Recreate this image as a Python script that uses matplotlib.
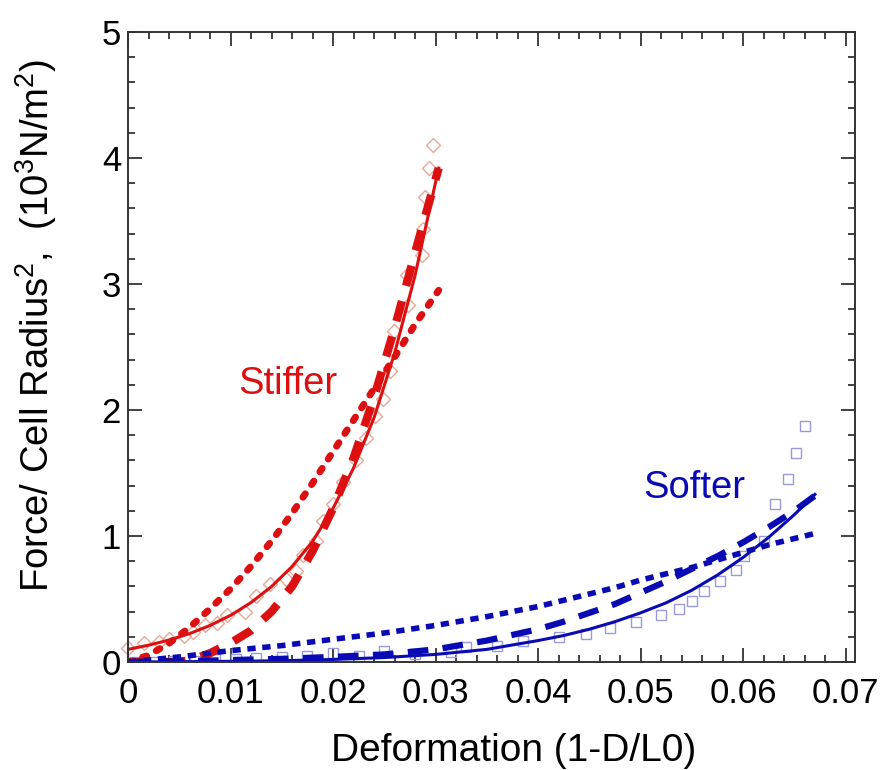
import numpy as np
import matplotlib
matplotlib.use('Agg')
import matplotlib.pyplot as plt
from matplotlib.ticker import MultipleLocator

plt.rcParams['font.family'] = ['Liberation Sans', 'DejaVu Sans']
plt.rcParams['mathtext.default'] = 'regular'

# stiffer cell (red): measured points and three model curves
stiff_x = [0.0000, 0.0016, 0.0030, 0.0040, 0.0055, 0.0063, 0.0075, 0.0087, 0.0097,
           0.0114, 0.0125, 0.0138, 0.0154, 0.0164, 0.0171, 0.0183, 0.0190, 0.0200,
           0.0210, 0.0222, 0.0232, 0.0241, 0.0249, 0.0256, 0.0259, 0.0273, 0.0272,
           0.0287, 0.0288, 0.0290, 0.0294, 0.0297]
stiff_y = [0.11, 0.15, 0.16, 0.18, 0.21, 0.24, 0.29, 0.31, 0.37,
           0.40, 0.52, 0.62, 0.66, 0.72, 0.85, 0.96, 1.12, 1.25,
           1.43, 1.60, 1.78, 1.95, 2.09, 2.31, 2.63, 2.83, 3.07,
           3.23, 3.44, 3.69, 3.92, 4.10]

fit_sx = [0, 0.002, 0.004, 0.006, 0.008, 0.010, 0.012, 0.014, 0.016,
          0.018, 0.020, 0.022, 0.024, 0.026, 0.028, 0.0303]
stiff_solid = [0.10, 0.133, 0.174, 0.225, 0.290, 0.37, 0.472, 0.599, 0.758,
               0.957, 1.22, 1.54, 1.94, 2.45, 3.07, 3.92]
stiff_dash = [0.0, 0.0, 0.0, 0.01, 0.07, 0.15, 0.25, 0.40, 0.60,
              0.88, 1.22, 1.62, 2.10, 2.65, 3.25, 3.92]
stiff_dot = [0.0, 0.053, 0.149, 0.274, 0.422, 0.58, 0.76, 0.96, 1.18,
             1.42, 1.67, 1.92, 2.17, 2.42, 2.68, 2.95]

# softer cell (blue)
soft_x = [0.0010, 0.0025, 0.0045, 0.0065, 0.0085, 0.0105, 0.0125, 0.0150, 0.0175,
          0.0200, 0.0225, 0.0250, 0.0280, 0.0315, 0.0330, 0.0360, 0.0385, 0.0420,
          0.0447, 0.0470, 0.0495, 0.0520, 0.0537, 0.0550, 0.0562, 0.0577, 0.0593,
          0.0601, 0.0620, 0.0631, 0.0644, 0.0652, 0.0660]
soft_y = [0.00, 0.00, 0.01, 0.01, 0.02, 0.02, 0.03, 0.04, 0.05,
          0.07, 0.05, 0.09, 0.06, 0.08, 0.12, 0.13, 0.17, 0.20,
          0.22, 0.27, 0.32, 0.37, 0.42, 0.48, 0.56, 0.64, 0.73,
          0.84, 0.96, 1.25, 1.45, 1.66, 1.87]

fit_bx = [0, 0.005, 0.010, 0.015, 0.020, 0.025, 0.030, 0.035, 0.040, 0.0425,
          0.045, 0.0475, 0.050, 0.0525, 0.055, 0.0575, 0.060, 0.0625, 0.065, 0.067]
soft_solid = [0.0, 0.002, 0.005, 0.01, 0.02, 0.035, 0.06, 0.10, 0.17, 0.21,
              0.26, 0.32, 0.39, 0.47, 0.57, 0.69, 0.83, 0.99, 1.17, 1.33]
soft_dash = [0.0, 0.005, 0.015, 0.025, 0.04, 0.06, 0.10, 0.17, 0.26, 0.32,
             0.39, 0.46, 0.55, 0.64, 0.74, 0.84, 0.95, 1.07, 1.20, 1.32]
soft_dot = [0.0, 0.04, 0.09, 0.13, 0.18, 0.23, 0.29, 0.36, 0.44, 0.49,
            0.54, 0.59, 0.65, 0.70, 0.75, 0.81, 0.87, 0.93, 0.98, 1.02]

red = '#dc1010'
blue = '#0a0ab4'

fig = plt.figure(figsize=(8.8, 7.7), dpi=100)
ax = fig.add_axes([0.1455, 0.1403, 0.826, 0.8181])

ax.plot(stiff_x, stiff_y, ls='none', marker='D', ms=7.5, mfc='none',
        mec='#e8a898', mew=1.0, clip_on=False)
ax.plot(soft_x, soft_y, ls='none', marker='s', ms=7, mfc='none',
        mec='#9a9ad8', mew=1.0)

ax.plot(fit_sx, stiff_solid, color=red, lw=2.2)
ax.plot(fit_sx, stiff_dash, color=red, lw=6, ls=(0, (2.5, 1.9)))
ax.plot(fit_sx, stiff_dot, color=red, lw=5, ls=(0, (0.6, 1.6)),
        dash_capstyle='round')

ax.plot(fit_bx, soft_solid, color=blue, lw=2.2)
ax.plot(fit_bx, soft_dash, color=blue, lw=4.5, ls=(0, (3.3, 2.3)))
ax.plot(fit_bx, soft_dot, color=blue, lw=4, ls=(0, (1.5, 1.2)))

ax.text(0.0156, 2.21, 'Stiffer', color=red, fontsize=27.5, ha='center', va='center')
ax.text(0.0552, 1.38, 'Softer', color=blue, fontsize=27.5, ha='center', va='center')

ax.set_xlim(0, 0.0709)
ax.set_ylim(0, 5)
ax.xaxis.set_major_locator(MultipleLocator(0.01))
ax.xaxis.set_minor_locator(MultipleLocator(0.002))
ax.yaxis.set_major_locator(MultipleLocator(1))
ax.yaxis.set_minor_locator(MultipleLocator(0.2))
ax.xaxis.set_major_formatter(plt.FuncFormatter(lambda v, p: '0' if abs(v) < 1e-9 else '%g' % v))

ax.tick_params(which='both', direction='in', top=True, right=True,
               width=1.3, color='#333333', labelsize=25)
ax.tick_params(which='major', length=10)
ax.tick_params(which='minor', length=5)
ax.tick_params(axis='x', pad=11)
ax.tick_params(axis='y', pad=5)
for s in ax.spines.values():
    s.set_linewidth(1.4)
    s.set_color('#333333')

ax.set_xlabel('Deformation (1-D/L0)', fontsize=28)
ax.set_ylabel('Force/ Cell Radius$^2$,  (10$^3$N/m$^2$)', fontsize=27.5)
ax.xaxis.set_label_coords(0.531, -0.113)
ax.yaxis.set_label_coords(-0.095, 0.535)

fig.savefig('out.png', dpi=100)
